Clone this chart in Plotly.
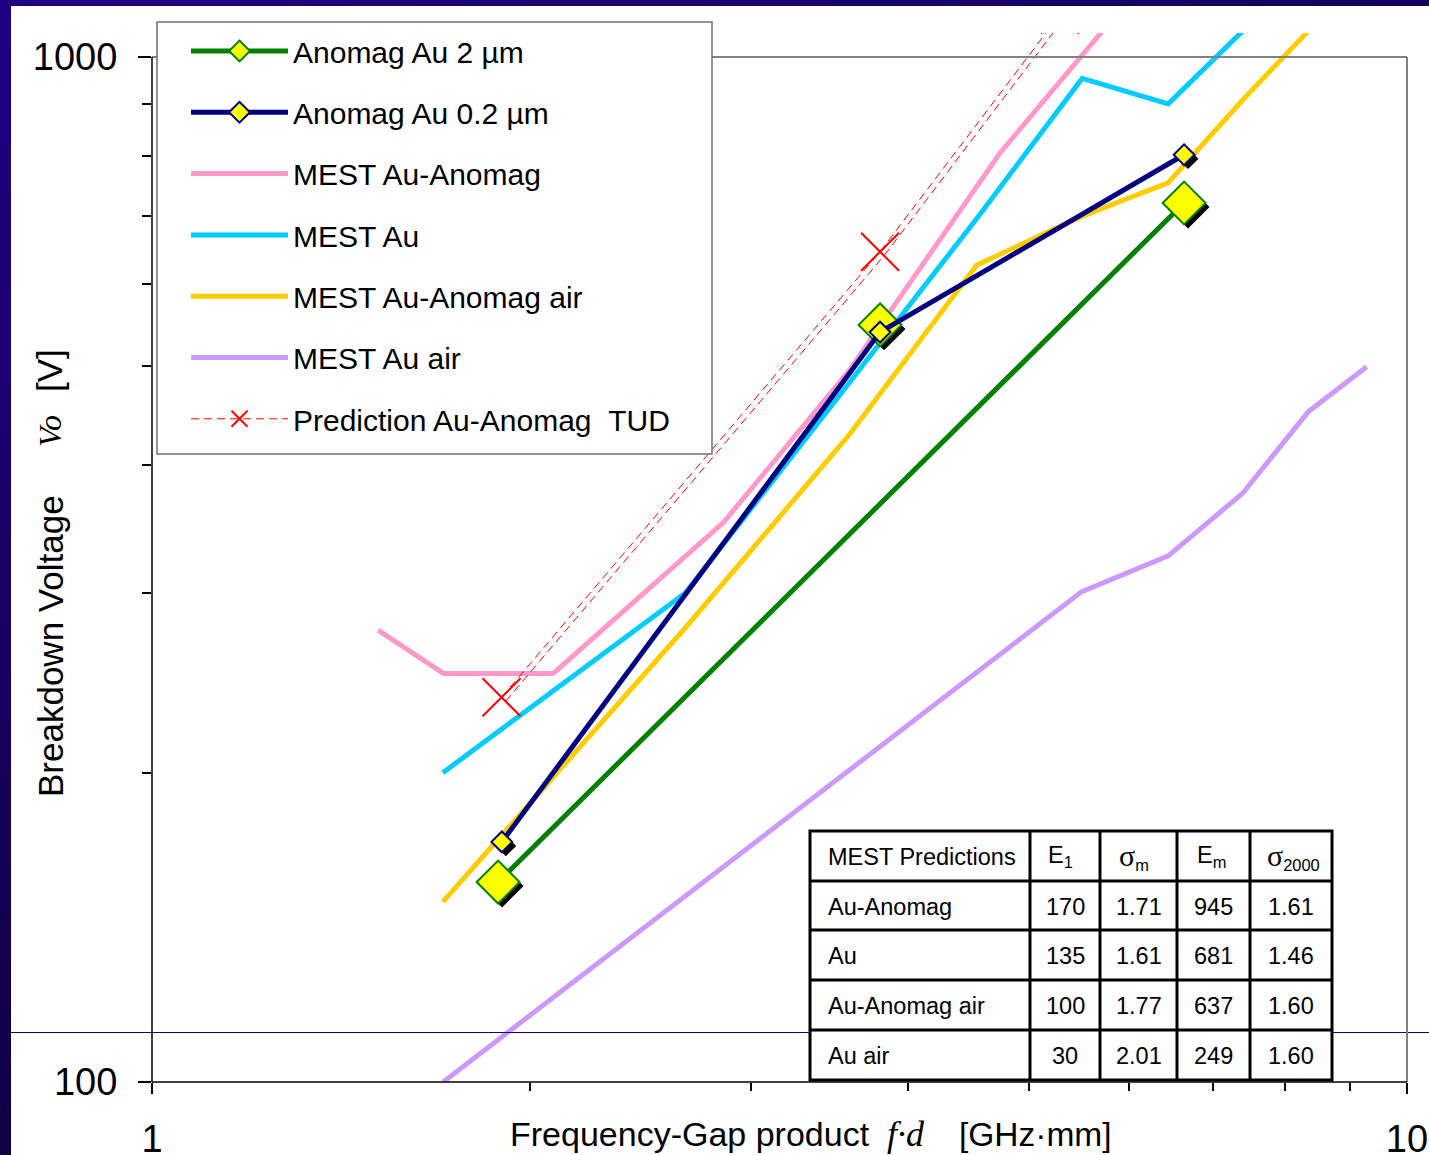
import plotly.graph_objects as go

# ---------------- data ----------------
# Measured breakdown voltage, Anomag-coated Au (2 um layer)
anomag_2um_fd = [1.887, 6.643]
anomag_2um_v = [156.7, 720.4]
anomag_2um_extra_fd = [3.803]
anomag_2um_extra_v = [547.8]

# Measured breakdown voltage, Anomag-coated Au (0.2 um layer)
anomag_02um_fd = [1.900, 3.803, 6.643]
anomag_02um_v = [171.5, 539.0, 802.9]

# MEST model curves
mest_au_anomag_fd = [1.514, 1.707, 2.088, 2.852, 3.593, 4.739, 5.80]
mest_au_anomag_v = [276.0, 250.4, 250.4, 351.3, 494.4, 806.0, 1082.0]

mest_au_fd = [1.705, 2.659, 3.593, 4.553, 5.51, 6.453, 7.397]
mest_au_v = [200.3, 299.8, 480.8, 698.6, 953.0, 900.0, 1060.0]

mest_au_anomag_air_fd = [1.705, 2.664, 3.593, 4.541, 5.50, 6.45, 7.397, 8.345]
mest_au_anomag_air_v = [149.9, 277.9, 427.8, 626.6, 698.6, 753.6, 907.9, 1060.5]

mest_au_air_fd = [1.706, 2.664, 3.593, 4.560, 5.506, 6.453, 7.397, 8.345, 9.287]
mest_au_air_v = [100.0, 151.9, 201.1, 251.8, 300.9, 326.1, 375.3, 450.8, 498.6]

# TUD prediction for Au-Anomag
prediction_fd = [1.899, 3.803, 5.29]
prediction_v = [237.3, 645.7, 1100.0]

# MEST fit parameters
SIG = "<span style=\"font-family:Liberation Serif, serif; font-size:30px\">σ</span>"
table_header = ["MEST Predictions", "E<sub>1</sub>", SIG + "<sub>m</sub>", "E<sub>m</sub>",
                SIG + "<sub>2000</sub>"]
table_rows = ["Au-Anomag", "Au", "Au-Anomag air", "Au air"]
table_e1 = [170, 135, 100, 30]
table_sigma_m = [1.71, 1.61, 1.77, 2.01]
table_em = [945, 681, 637, 249]
table_sigma_2000 = [1.61, 1.46, 1.60, 1.60]

# ---------------- geometry ----------------
W, H = 1429, 1155
ML, MR, MT, MB = 152, 22, 33, 73
PW = W - ML - MR          # pixels per x decade (range 1..10)
PH = H - MT - MB
YDEC = 1025.0             # pixels per y decade
Y_TOP = 2 + PH / YDEC     # lines run a little above the 1000 V frame
SH = 4                    # marker shadow offset, px

FONT = "Liberation Sans, Arial, sans-serif"
SERIF = "Liberation Serif, Times New Roman, serif"


def px(x):
    return (x - ML) / PW


def py(y):
    return (H - MB - y) / PH


GREEN = "#008000"
NAVY = "#000080"
PINK = "#FF99CC"
CYAN = "#00CCFF"
GOLD = "#FFCC00"
LILAC = "#CC99FF"
RED = "#FF0000"
YELLOW = "#FFFF00"

fig = go.Figure()

# MEST curves (base axes)
for name, xs, ys, col, rank in [
    ("MEST Au-Anomag", mest_au_anomag_fd, mest_au_anomag_v, PINK, 3),
    ("MEST Au", mest_au_fd, mest_au_v, CYAN, 4),
    ("MEST Au-Anomag air", mest_au_anomag_air_fd, mest_au_anomag_air_v, GOLD, 5),
    ("MEST Au air", mest_au_air_fd, mest_au_air_v, LILAC, 6),
]:
    fig.add_trace(go.Scatter(
        x=xs, y=ys, mode="lines", name=name, legendgroup=name, legendrank=rank,
        line=dict(color=col, width=5),
    ))

pred_name = "Prediction Au-Anomag\u00a0\u00a0TUD"
fig.add_trace(go.Scatter(
    x=prediction_fd, y=prediction_v, mode="lines+markers", name=pred_name,
    legendgroup="pred", legendrank=7,
    line=dict(color=RED, width=1, dash="8px,5px"),
    marker=dict(symbol="x-thin", size=38, line=dict(color=RED, width=2)),
))

# second (offset) stroke of the dashed prediction line
fig.add_trace(go.Scatter(
    x=prediction_fd, y=prediction_v, mode="lines", showlegend=False,
    legendgroup="pred", xaxis="x2", yaxis="y2",
    line=dict(color=RED, width=1, dash="8px,5px"), hoverinfo="skip",
))

# marker shadows (offset axes)
for xs, ys, size in [
    (anomag_2um_fd + anomag_2um_extra_fd, anomag_2um_v + anomag_2um_extra_v, 33),
    (anomag_02um_fd, anomag_02um_v, 16),
]:
    fig.add_trace(go.Scatter(
        x=xs, y=ys, mode="markers", showlegend=False, xaxis="x2", yaxis="y2",
        marker=dict(symbol="diamond", size=size, color="black", line=dict(width=0)),
        hoverinfo="skip",
    ))

# measured series (top axes)
g2 = "Anomag Au 2 µm"
fig.add_trace(go.Scatter(
    x=anomag_2um_extra_fd, y=anomag_2um_extra_v, mode="markers", showlegend=False,
    legendgroup=g2, xaxis="x3", yaxis="y3",
    marker=dict(symbol="diamond", size=33, color=YELLOW, line=dict(color=GREEN, width=2)),
))
fig.add_trace(go.Scatter(
    x=anomag_2um_fd, y=anomag_2um_v, mode="lines+markers", name=g2,
    legendgroup=g2, legendrank=1, xaxis="x3", yaxis="y3",
    line=dict(color=GREEN, width=5),
    marker=dict(symbol="diamond", size=33, color=YELLOW, line=dict(color=GREEN, width=2)),
))
g02 = "Anomag Au 0.2 µm"
fig.add_trace(go.Scatter(
    x=anomag_02um_fd, y=anomag_02um_v, mode="lines+markers", name=g02,
    legendgroup=g02, legendrank=2, xaxis="x3", yaxis="y3",
    line=dict(color=NAVY, width=5),
    marker=dict(symbol="diamond", size=16, color=YELLOW, line=dict(color=NAVY, width=2)),
))

# ---------------- decorations ----------------
shapes = []


def mix(c0, c1, t):
    return "rgb(%d,%d,%d)" % tuple(round(a + (b - a) * t) for a, b in zip(c0, c1))


TOPC, BOTC, RIGHTC = (31, 0, 130), (16, 0, 70), (20, 0, 90)
N = 24
for i in range(N):
    y0, y1 = H * i / N, H * (i + 1) / N + 1
    shapes.append(dict(type="rect", xref="paper", yref="paper", layer="above",
                       x0=px(0), x1=px(11), y0=py(y1), y1=py(y0),
                       fillcolor=mix(TOPC, BOTC, i / (N - 1)), line=dict(width=0)))
for i in range(N):
    x0, x1 = W * i / N, W * (i + 1) / N + 1
    shapes.append(dict(type="rect", xref="paper", yref="paper", layer="above",
                       x0=px(x0), x1=px(x1), y0=py(6), y1=py(0),
                       fillcolor=mix(TOPC, RIGHTC, i / (N - 1)), line=dict(width=0)))
# slide rule line
shapes.append(dict(type="line", xref="paper", yref="paper", layer="above",
                   x0=px(11), x1=px(W), y0=py(1032.5), y1=py(1032.5),
                   line=dict(color="#1A0078", width=1)))
# plot frame
shapes += [
    dict(type="line", xref="paper", yref="paper", x0=px(152), x1=px(1407), y0=py(57), y1=py(57),
         line=dict(color="#808080", width=2), layer="above"),
    dict(type="line", xref="paper", yref="paper", x0=px(1407), x1=px(1407), y0=py(57), y1=py(1082),
         line=dict(color="#808080", width=2), layer="above"),
    dict(type="line", xref="paper", yref="paper", x0=px(152), x1=px(152), y0=py(57), y1=py(1082),
         line=dict(color="black", width=1.5), layer="above"),
    dict(type="line", xref="paper", yref="paper", x0=px(152), x1=px(1407), y0=py(1082), y1=py(1082),
         line=dict(color="black", width=1.5), layer="above"),
]
# legend frame
shapes.append(dict(type="rect", xref="paper", yref="paper", layer="above",
                   x0=px(157), x1=px(712), y0=py(454), y1=py(22),
                   fillcolor="white", line=dict(color="#707070", width=1.5)))

# parameter table
TX = [810, 1030, 1100, 1177, 1250, 1332]
TY = [831, 881, 930, 980, 1030, 1080]
shapes.append(dict(type="rect", xref="paper", yref="paper", layer="above",
                   x0=px(TX[0]), x1=px(TX[-1]), y0=py(TY[-1]), y1=py(TY[0]),
                   fillcolor="white", line=dict(color="black", width=3)))
for xv in TX[1:-1]:
    shapes.append(dict(type="line", xref="paper", yref="paper", layer="above",
                       x0=px(xv), x1=px(xv), y0=py(TY[-1]), y1=py(TY[0]),
                       line=dict(color="black", width=3)))
for yv in TY[1:-1]:
    shapes.append(dict(type="line", xref="paper", yref="paper", layer="above",
                       x0=px(TX[0]), x1=px(TX[-1]), y0=py(yv), y1=py(yv),
                       line=dict(color="black", width=3)))

annotations = []
TF = dict(family=FONT, size=23.5, color="black")
HEAD_X = [826, 1046, 1117, 1195, 1265]
for j, txt in enumerate(table_header):
    yc = (TY[0] + TY[1]) / 2 + 1
    annotations.append(dict(xref="paper", yref="paper", x=px(HEAD_X[j]), y=py(yc), text=txt,
                            xanchor="left", yanchor="middle", showarrow=False, font=TF))
for i, row in enumerate(table_rows):
    yc = (TY[i + 1] + TY[i + 2]) / 2 + 1
    vals = [row, str(table_e1[i]), f"{table_sigma_m[i]:.2f}", str(table_em[i]),
            f"{table_sigma_2000[i]:.2f}"]
    for j, txt in enumerate(vals):
        if j == 0:
            annotations.append(dict(xref="paper", yref="paper", x=px(826), y=py(yc),
                                    text=txt, xanchor="left", yanchor="middle",
                                    showarrow=False, font=TF))
        else:
            annotations.append(dict(xref="paper", yref="paper", x=px((TX[j] + TX[j + 1]) / 2),
                                    y=py(yc), text=txt, xanchor="center", yanchor="middle",
                                    showarrow=False, font=TF))

# axis titles (pieces placed individually)
title_font = dict(family=FONT, color="black")
annotations += [
    dict(xref="paper", yref="paper", x=px(50), y=py(646), textangle=-90, showarrow=False,
         xanchor="center", yanchor="middle", text="Breakdown Voltage",
         font=dict(**title_font, size=35)),
    dict(xref="paper", yref="paper", x=px(50), y=py(431), textangle=-90, showarrow=False,
         xanchor="center", yanchor="middle", text="<i>Vo</i>",
         font=dict(family=SERIF, color="black", size=32)),
    dict(xref="paper", yref="paper", x=px(50), y=py(371), textangle=-90, showarrow=False,
         xanchor="center", yanchor="middle", text="[V]",
         font=dict(**title_font, size=35)),
    dict(xref="paper", yref="paper", x=px(508), y=py(1134), showarrow=False,
         xanchor="left", yanchor="middle", text="Frequency-Gap product",
         font=dict(**title_font, size=34)),
    dict(xref="paper", yref="paper", x=px(906), y=py(1134), showarrow=False,
         xanchor="center", yanchor="middle", text="<i>f·d</i>",
         font=dict(family=SERIF, color="black", size=36)),
    dict(xref="paper", yref="paper", x=px(957), y=py(1134), showarrow=False,
         xanchor="left", yanchor="middle", text="[GHz·mm]",
         font=dict(**title_font, size=33.5)),
]

axis_common = dict(type="log", showgrid=False, zeroline=False, showline=False,
                   automargin=False)

fig.update_layout(
    width=W, height=H,
    margin=dict(l=ML, r=MR, t=MT, b=MB, pad=0, autoexpand=False),
    paper_bgcolor="white", plot_bgcolor="white",
    font=dict(family=FONT, color="black"),
    showlegend=True,
    xaxis=dict(
        **axis_common, range=[0, 1],
        tickvals=[1, 10], ticktext=["1", "10"], ticks="outside", ticklen=11,
        tickwidth=1.5, tickcolor="black", tickfont=dict(size=38, family=FONT, color="black"),
        ticklabelstandoff=12,
        minor=dict(tickvals=[2, 3, 4, 5, 6, 7, 8, 9], ticks="outside", ticklen=8,
                   tickwidth=1.5, tickcolor="black", showgrid=False),
    ),
    yaxis=dict(
        **axis_common, range=[2, Y_TOP],
        tickvals=[100, 1000], ticktext=["100", "1000"], ticks="outside", ticklen=13,
        tickwidth=1.5, tickcolor="black", tickfont=dict(size=38, family=FONT, color="black"),
        ticklabelstandoff=13,
        minor=dict(tickvals=[200, 300, 400, 500, 600, 700, 800, 900], ticks="outside",
                   ticklen=9, tickwidth=1.5, tickcolor="black", showgrid=False),
    ),
    xaxis2=dict(**axis_common, overlaying="x", range=[-SH / PW, 1 - SH / PW], visible=False),
    yaxis2=dict(**axis_common, overlaying="y", range=[2 + SH / YDEC, Y_TOP + SH / YDEC],
                visible=False),
    xaxis3=dict(**axis_common, overlaying="x", range=[0, 1], visible=False),
    yaxis3=dict(**axis_common, overlaying="y", range=[2, Y_TOP], visible=False),
    legend=dict(
        x=px(157), y=py(25), xanchor="left", yanchor="top",
        bgcolor="rgba(0,0,0,0)", borderwidth=0,
        font=dict(family=FONT, size=30, color="black"),
        itemwidth=97, indentation=29, traceorder="grouped", tracegroupgap=19.3,
        itemclick=False, itemdoubleclick=False,
    ),
    shapes=shapes,
    annotations=annotations,
)

fig.write_html("out.html")
